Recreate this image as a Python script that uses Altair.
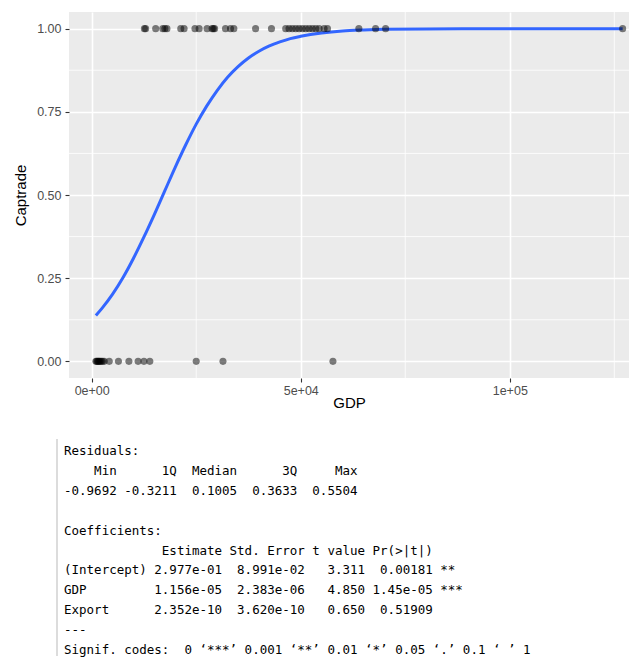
import altair as alt
import pandas as pd

# ---- data ----
gdp_trade1 = [12600, 12900, 15300, 17000, 17500, 18000, 21300, 22100, 24700, 25700,
              27600, 28800, 29100, 29400, 32000, 33200, 34000, 39200, 43000, 46400,
              47200, 48000, 48800, 49600, 50400, 51200, 52000, 52800, 53600, 54400,
              55600, 56400, 63900, 67900, 70300, 127000]
gdp_trade0 = [1000, 1200, 1400, 1600, 1800, 2000, 2300, 2600, 3000, 4200, 6400, 8900,
              11100, 12500, 13900, 25000, 31400, 57700]
curve_gdp = [1000, 2500, 5000, 7500, 10000, 12500, 15000, 17500, 20000, 22500, 25000,
             27500, 30000, 32500, 35000, 37500, 40000, 42500, 45000, 47500, 50000,
             55000, 60000, 65000, 70000, 80000, 90000, 100000, 127000]
curve_prob = [0.138, 0.160, 0.202, 0.252, 0.310, 0.374, 0.442, 0.513, 0.584, 0.651, 0.713,
              0.767, 0.814, 0.854, 0.886, 0.912, 0.932, 0.948, 0.960, 0.970, 0.977,
              0.987, 0.993, 0.996, 0.998, 0.999, 1.0, 1.0, 1.0]

x_ticks = [0, 50000, 100000]
x_tick_labels = ["0e+00", "5e+04", "1e+05"]
y_ticks = [0, 0.25, 0.5, 0.75, 1.0]
x_minor = [25000, 75000, 125000]
y_minor = [0.125, 0.375, 0.625, 0.875]

resid_labels = ["Min", "1Q", "Median", "3Q", "Max"]
resid_values = ["-0.9692", "-0.3211", "0.1005", "0.3633", "0.5504"]
coef_terms = ["(Intercept)", "GDP", "Export"]
estimates = ["2.977e-01", "1.156e-05", "2.352e-10"]
std_errors = ["8.991e-02", "2.383e-06", "3.620e-10"]
t_values = ["3.311", "4.850", "0.650"]
p_values = ["0.00181", "1.45e-05", "0.51909"]
stars = ["**", "***", ""]
signif_line = "Signif. codes:  0 \u2018***\u2019 0.001 \u2018**\u2019 0.01 \u2018*\u2019 0.05 \u2018.\u2019 0.1 \u2018 \u2019 1"

# ---- build R style text ----
lines = ["Residuals:",
         " ".join(f"{s:>7}" for s in resid_labels),
         " ".join(f"{s:>7}" for s in resid_values),
         "",
         "Coefficients:",
         f"{'':11} {'Estimate':>9} {'Std. Error':>10} {'t value':>7} {'Pr(>|t|)':>8}"]
for i in range(len(coef_terms)):
    lines.append(f"{coef_terms[i]:<11} {estimates[i]:>9} {std_errors[i]:>10} {t_values[i]:>7} {p_values[i]:>8} {stars[i]}")
lines.append("---")
lines.append(signif_line)
rows = [i for i, l in enumerate(lines) if l]
text_df = pd.DataFrame({"row": rows,
                        "txt": ["\u200d" + lines[i].replace(" ", "\u00a0") for i in rows]})

points = pd.DataFrame({"GDP": gdp_trade1 + gdp_trade0,
                       "Captrade": [1] * len(gdp_trade1) + [0] * len(gdp_trade0)})
curve = pd.DataFrame({"GDP": curve_gdp, "Captrade": curve_prob})

FONT = "Liberation Sans"
xscale = alt.Scale(domain=[-5430, 128520], nice=False, zero=False)
yscale = alt.Scale(domain=[-0.05, 1.05], nice=False, zero=False)

label_expr = " : ".join(f"datum.value == {v} ? '{l}'" for v, l in zip(x_ticks, x_tick_labels)) + " : ''"

xaxis = alt.Axis(values=x_ticks, labelExpr=label_expr, grid=True, gridColor="white",
                 gridWidth=1.6, domain=False, tickColor="#333333", tickSize=4, tickWidth=1.1,
                 labelColor="#4D4D4D", labelFontSize=12.5, labelFont=FONT, labelPadding=2,
                 title="GDP", titleFont=FONT, titleFontSize=15, titleFontWeight="normal",
                 titleColor="black", titlePadding=-1)
yaxis = alt.Axis(values=y_ticks, format=".2f", grid=True, gridColor="white",
                 gridWidth=1.6, domain=False, tickColor="#333333", tickSize=4, tickWidth=1.1,
                 labelColor="#4D4D4D", labelFontSize=12.5, labelFont=FONT, labelPadding=4,
                 title="Captrade", titleFont=FONT, titleFontSize=15, titleFontWeight="normal",
                 titleColor="black", titlePadding=8)

minor_x = alt.Chart(pd.DataFrame({"GDP": x_minor})).mark_rule(color="white", strokeWidth=0.8).encode(
    x=alt.X("GDP:Q", scale=xscale, axis=xaxis))
minor_y = alt.Chart(pd.DataFrame({"Captrade": y_minor})).mark_rule(color="white", strokeWidth=0.8).encode(
    y=alt.Y("Captrade:Q", scale=yscale, axis=yaxis))

pts = alt.Chart(points).mark_circle(size=50, color="black", opacity=0.5).encode(
    x=alt.X("GDP:Q", scale=xscale, axis=xaxis),
    y=alt.Y("Captrade:Q", scale=yscale, axis=yaxis))

line = alt.Chart(curve).mark_line(color="#3366FF", strokeWidth=3, interpolate="monotone").encode(
    x=alt.X("GDP:Q", scale=xscale, axis=xaxis),
    y=alt.Y("Captrade:Q", scale=yscale, axis=yaxis))

top = alt.layer(minor_x, minor_y, line, pts).properties(
    width=560, height=366, view=alt.ViewBackground(fill="#EBEBEB", stroke=None))

TH = 217
LS = 19.9
R0 = 12
rows_domain = [-R0 / LS, (TH - R0) / LS]
txt = alt.Chart(text_df).mark_text(align="left", baseline="middle", font="DejaVu Sans Mono",
                                   fontSize=12.5, color="black").encode(
    y=alt.Y("row:Q", scale=alt.Scale(domain=rows_domain, reverse=True, nice=False, zero=False), axis=None),
    x=alt.value(-5),
    text="txt:N")
bar = alt.Chart(pd.DataFrame({"a": [0]})).mark_rule(color="#D0D0D0", strokeWidth=1.5).encode(
    x=alt.value(-12), y=alt.value(0), y2=alt.value(TH))
bottom = alt.layer(bar, txt).properties(width=480, height=TH)

chart = alt.vconcat(top, bottom, spacing=27).properties(
    padding={"left": 5, "top": 3, "right": 0, "bottom": 0}
).configure_view(stroke=None)

chart.save("out.html", embed_options={"renderer": "svg", "actions": False})
